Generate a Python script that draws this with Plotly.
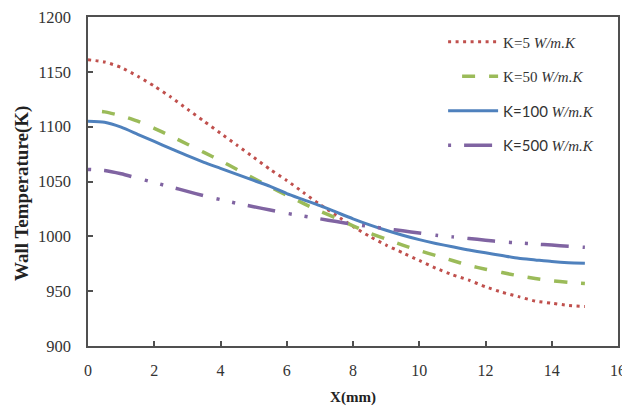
import plotly.graph_objects as go

x_mm = [0, 0.5, 1, 1.5, 2, 2.5, 3, 3.5, 4, 4.5, 5, 5.5, 6, 6.5, 7, 7.5,
        8, 8.5, 9, 9.5, 10, 10.5, 11, 11.5, 12, 12.5, 13, 13.5, 14, 14.5, 15]

t_k5 = [1161, 1159, 1154, 1146, 1137, 1127, 1116, 1105, 1094, 1083, 1072,
        1061, 1051, 1040, 1029, 1019, 1009, 1000, 992, 985, 978, 971, 965,
        960, 954, 949, 945, 941, 939, 937, 936]
t_k50 = [1115, 1113.5, 1110, 1105, 1098.5, 1091.5, 1084, 1076.5, 1069, 1061,
         1053, 1045, 1037.5, 1030, 1023, 1016.5, 1009.5, 1003, 997.5, 992,
         987, 982.5, 978, 973.5, 970, 967, 964, 961.5, 959.5, 958, 957]
t_k100 = [1105, 1104, 1099.5, 1093, 1086.5, 1080, 1073.5, 1067.5, 1062,
          1056.5, 1051, 1045.5, 1039, 1033.5, 1028, 1022, 1016, 1010.5,
          1005.5, 1001, 997, 993.5, 990.5, 987.5, 985, 982.5, 980, 978.5,
          977, 976, 975.5]
t_k500 = [1061, 1060, 1057, 1053, 1049, 1045, 1041, 1037, 1033.5, 1030, 1027,
          1024, 1021, 1018.5, 1016, 1013.5, 1011, 1009, 1007, 1005, 1003,
          1001, 999.5, 998, 996.5, 995, 994, 993, 992, 991, 990]

names = ["K=5 <i>W/m.K</i>",
         "K=50 <i>W/m.K</i>",
         "<span style=\"font-family:Lato\">K=100</span> <i>W/m.K</i>",
         "<span style=\"font-family:Lato\">K=500</span> <i>W/m.K</i>"]
series = [t_k5, t_k50, t_k100, t_k500]
colors = ["#C0504D", "#9BBB59", "#4F81BD", "#8064A2"]
dashes = ["3px,4.5px", "0px,14px,13px,0px", "solid",
          "3px,13px,28px,14px,3px,13px"]
widths = [3, 3.5, 3, 3.5]

fig = go.Figure()
for i, (nm, ys) in enumerate(zip(names, series)):
    fig.add_trace(go.Scatter(
        x=x_mm, y=ys, mode="lines", name=nm, legendgroup=f"g{i}",
        line=dict(color=colors[i], width=widths[i], dash=dashes[i],
                  shape="spline", smoothing=0.6)))

axis_common = dict(
    showline=True, linecolor="#505050", linewidth=1.5, mirror=True,
    ticks="inside", ticklen=5, tickcolor="#505050", tickwidth=1.5,
    showgrid=False, zeroline=False, automargin=False,
    ticklabeloverflow="allow",
)

# page body adds an 8px offset, so the figure is 8px smaller on each side
fig.update_layout(
    width=622, height=398,
    margin=dict(l=80, r=12, t=9, b=60),
    paper_bgcolor="white", plot_bgcolor="white",
    font=dict(family="Liberation Serif", color="#333333"),
    xaxis=dict(range=[0, 16], dtick=2, tickfont=dict(size=16),
               ticklabelstandoff=9,
               title=dict(text="<b>X(mm)</b>", font=dict(size=15, color="#222"),
                          standoff=15),
               **axis_common),
    yaxis=dict(range=[900, 1200], dtick=50, tickfont=dict(size=16.5),
               ticklabelstandoff=12, **axis_common),
    legend=dict(x=0.67, y=0.974, xanchor="left", yanchor="top",
                bgcolor="rgba(0,0,0,0)", font=dict(size=15, color="#333"),
                itemwidth=50, tracegroupgap=12),
    showlegend=True,
    annotations=[dict(text="<b>Wall Temperature(K)</b>", textangle=-90,
                      xref="paper", yref="paper", x=-66 / 530, y=0.462,
                      xanchor="center", yanchor="middle", showarrow=False,
                      font=dict(size=19, color="#222"))],
)

fig.write_html("out.html")
